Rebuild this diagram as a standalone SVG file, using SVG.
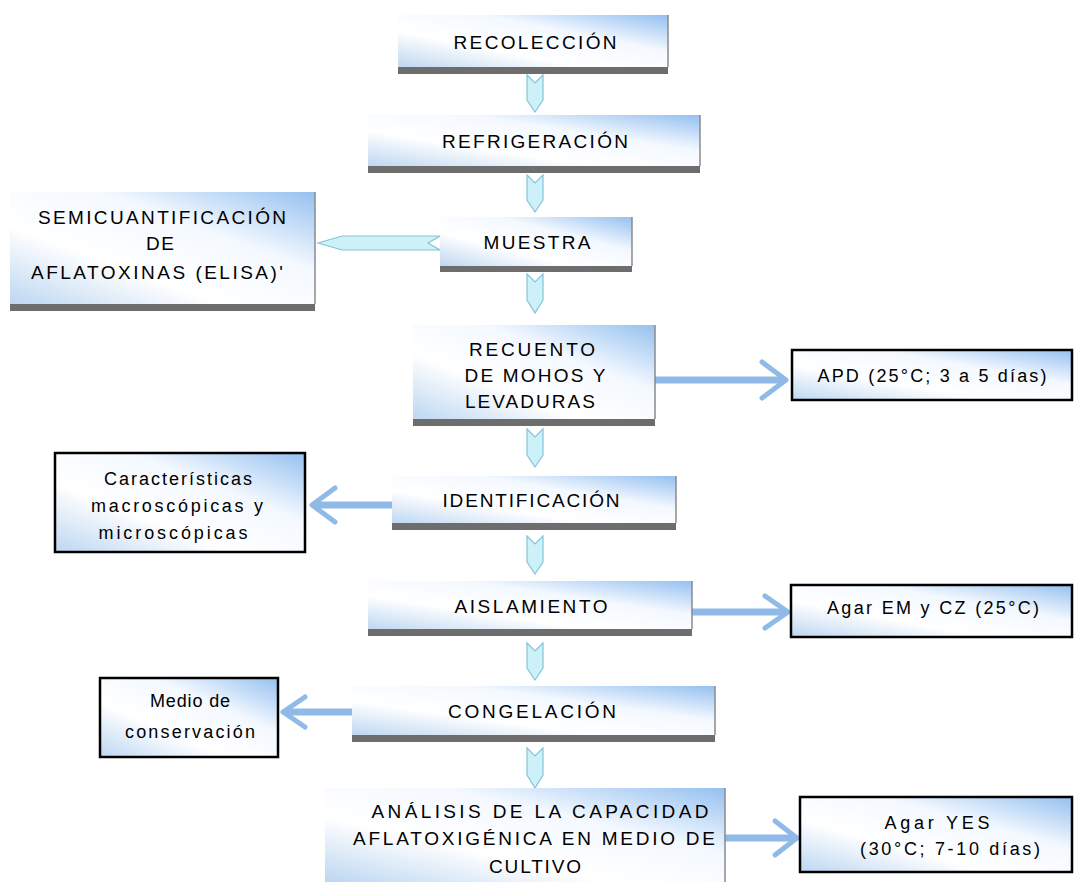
<svg xmlns="http://www.w3.org/2000/svg" width="1079" height="890" viewBox="0 0 1079 890">
<style>
text{font-family:"Liberation Sans",Arial,sans-serif;font-size:19px;fill:#000;text-anchor:middle}
.low{font-size:18px}
.box{fill:url(#g)}
.edge{stroke:#8a8a8a;stroke-width:1.5}
.sh{fill:#6d6d6d}
.sbox{fill:url(#g);stroke:#000;stroke-width:2.5}
.dn{fill:#cdf1f8;stroke:#86c3d8;stroke-width:1.2}
.bl{stroke:#8fb9e6;stroke-width:7;fill:none}
.hd{stroke:#8fb9e6;stroke-width:5;fill:none;stroke-linecap:round;stroke-linejoin:round}
</style>
<defs>
<linearGradient id="g" x1="1" y1="0" x2="0" y2="1">
<stop offset="0" stop-color="#95c0f0"/>
<stop offset="0.35" stop-color="#f4f9ff"/>
<stop offset="0.65" stop-color="#ffffff"/>
<stop offset="1" stop-color="#bcd6f1"/>
</linearGradient>
</defs>
<rect width="1079" height="890" fill="#ffffff"/>
<g id="connectors">
<path class="dn" d="M527,75 L535,83 L543,75 L543,100 L535,112 L527,100 Z"/>
<path class="dn" d="M527,175 L535,183 L543,175 L543,200 L535,212 L527,200 Z"/>
<path class="dn" d="M527,274 L535,282 L543,274 L543,300 L535,313 L527,300 Z"/>
<path class="dn" d="M527,429 L535,437 L543,429 L543,455 L535,467 L527,455 Z"/>
<path class="dn" d="M527,536 L535,544 L543,536 L543,562 L535,574 L527,562 Z"/>
<path class="dn" d="M527,643 L535,651 L543,643 L543,668 L535,680 L527,668 Z"/>
<path class="dn" d="M527,748 L535,756 L543,748 L543,775 L535,788 L527,775 Z"/>
<path class="dn" d="M318,243 L342,236 L440,236 L428,243 L440,250 L342,250 Z"/>
<line class="bl" x1="655" y1="380" x2="782" y2="380"/>
<polyline class="hd" points="762,362 786,380 762,398"/>
<line class="bl" x1="392" y1="505" x2="316" y2="505"/>
<polyline class="hd" points="335,488 312,505 335,522"/>
<line class="bl" x1="692" y1="612" x2="784" y2="612"/>
<polyline class="hd" points="765,596 788,612 765,628"/>
<line class="bl" x1="352" y1="712" x2="287" y2="712"/>
<polyline class="hd" points="305,697 283,712 305,727"/>
<line class="bl" x1="725" y1="838" x2="793" y2="838"/>
<polyline class="hd" points="775,821 797,838 775,855"/>
</g>
<g id="recoleccion">
<rect class="box" x="398" y="15" width="270" height="53"/>
<rect class="sh" x="398" y="67" width="270" height="7"/>
<line class="edge" x1="668" y1="15" x2="668" y2="67"/>
<text x="535" y="49" textLength="163" lengthAdjust="spacing">RECOLECCIÓN</text>
</g>
<g id="refrigeracion">
<rect class="box" x="368" y="115" width="332" height="52"/>
<rect class="sh" x="368" y="166" width="332" height="7"/>
<line class="edge" x1="700" y1="115" x2="700" y2="166"/>
<text x="535" y="148" textLength="186" lengthAdjust="spacing">REFRIGERACIÓN</text>
</g>
<g id="muestra">
<rect class="box" x="440" y="217" width="192" height="50"/>
<rect class="sh" x="440" y="266" width="192" height="6"/>
<line class="edge" x1="632" y1="217" x2="632" y2="266"/>
<text x="537" y="249" textLength="107" lengthAdjust="spacing">MUESTRA</text>
</g>
<g id="semicuantificacion">
<rect class="box" x="10" y="192" width="305" height="113"/>
<rect class="sh" x="10" y="304" width="305" height="7"/>
<line class="edge" x1="315" y1="192" x2="315" y2="304"/>
<text x="162" y="224" textLength="248" lengthAdjust="spacing">SEMICUANTIFICACIÓN</text>
<text x="160" y="250" textLength="28" lengthAdjust="spacing">DE</text>
<text x="157" y="279" textLength="252" lengthAdjust="spacing">AFLATOXINAS (ELISA)'</text>
</g>
<g id="recuento">
<rect class="box" x="413" y="325" width="242" height="95"/>
<rect class="sh" x="413" y="419" width="242" height="7"/>
<line class="edge" x1="655" y1="325" x2="655" y2="419"/>
<text x="532" y="356" textLength="126" lengthAdjust="spacing">RECUENTO</text>
<text x="535" y="382" textLength="141" lengthAdjust="spacing">DE MOHOS Y</text>
<text x="530" y="408" textLength="130" lengthAdjust="spacing">LEVADURAS</text>
</g>
<g id="apd">
<rect class="sbox" x="792" y="350" width="280" height="50"/>
<text class="low" x="932" y="382" textLength="229" lengthAdjust="spacing">APD (25°C; 3 a 5 días)</text>
</g>
<g id="identificacion">
<rect class="box" x="392" y="476" width="284" height="48"/>
<rect class="sh" x="392" y="523" width="284" height="7"/>
<line class="edge" x1="676" y1="476" x2="676" y2="523"/>
<text x="531" y="507" textLength="177" lengthAdjust="spacing">IDENTIFICACIÓN</text>
</g>
<g id="caracteristicas">
<rect class="sbox" x="55" y="453" width="250" height="99"/>
<text class="low" x="178" y="485" textLength="148" lengthAdjust="spacing">Características</text>
<text class="low" x="177" y="512" textLength="172" lengthAdjust="spacing">macroscópicas y</text>
<text class="low" x="173" y="539" textLength="149" lengthAdjust="spacing">microscópicas</text>
</g>
<g id="aislamiento">
<rect class="box" x="368" y="581" width="324" height="49"/>
<rect class="sh" x="368" y="629" width="324" height="7"/>
<line class="edge" x1="692" y1="581" x2="692" y2="629"/>
<text x="531" y="613" textLength="153" lengthAdjust="spacing">AISLAMIENTO</text>
</g>
<g id="agar-em">
<rect class="sbox" x="791" y="585" width="281" height="52"/>
<text class="low" x="933" y="614" textLength="212" lengthAdjust="spacing">Agar EM y CZ (25°C)</text>
</g>
<g id="congelacion">
<rect class="box" x="352" y="686" width="363" height="50"/>
<rect class="sh" x="352" y="735" width="363" height="7"/>
<line class="edge" x1="715" y1="686" x2="715" y2="735"/>
<text x="532" y="718" textLength="168" lengthAdjust="spacing">CONGELACIÓN</text>
</g>
<g id="medio">
<rect class="sbox" x="100" y="678" width="178" height="79"/>
<text class="low" x="190" y="707" textLength="80" lengthAdjust="spacing">Medio de</text>
<text class="low" x="190" y="738" textLength="130" lengthAdjust="spacing">conservación</text>
</g>
<g id="analisis">
<rect class="box" x="325" y="788" width="400" height="94"/>
<line class="edge" x1="725" y1="788" x2="725" y2="882"/>
<text x="540" y="818" textLength="337" lengthAdjust="spacing">ANÁLISIS DE LA CAPACIDAD</text>
<text x="534" y="845" textLength="362" lengthAdjust="spacing">AFLATOXIGÉNICA EN MEDIO DE</text>
<text x="535" y="873" textLength="92" lengthAdjust="spacing">CULTIVO</text>
</g>
<g id="agar-yes">
<rect class="sbox" x="800" y="797" width="272" height="75"/>
<text class="low" x="937" y="829" textLength="105" lengthAdjust="spacing">Agar YES</text>
<text class="low" x="950" y="855" textLength="180" lengthAdjust="spacing">(30°C; 7-10 días)</text>
</g>
</svg>
